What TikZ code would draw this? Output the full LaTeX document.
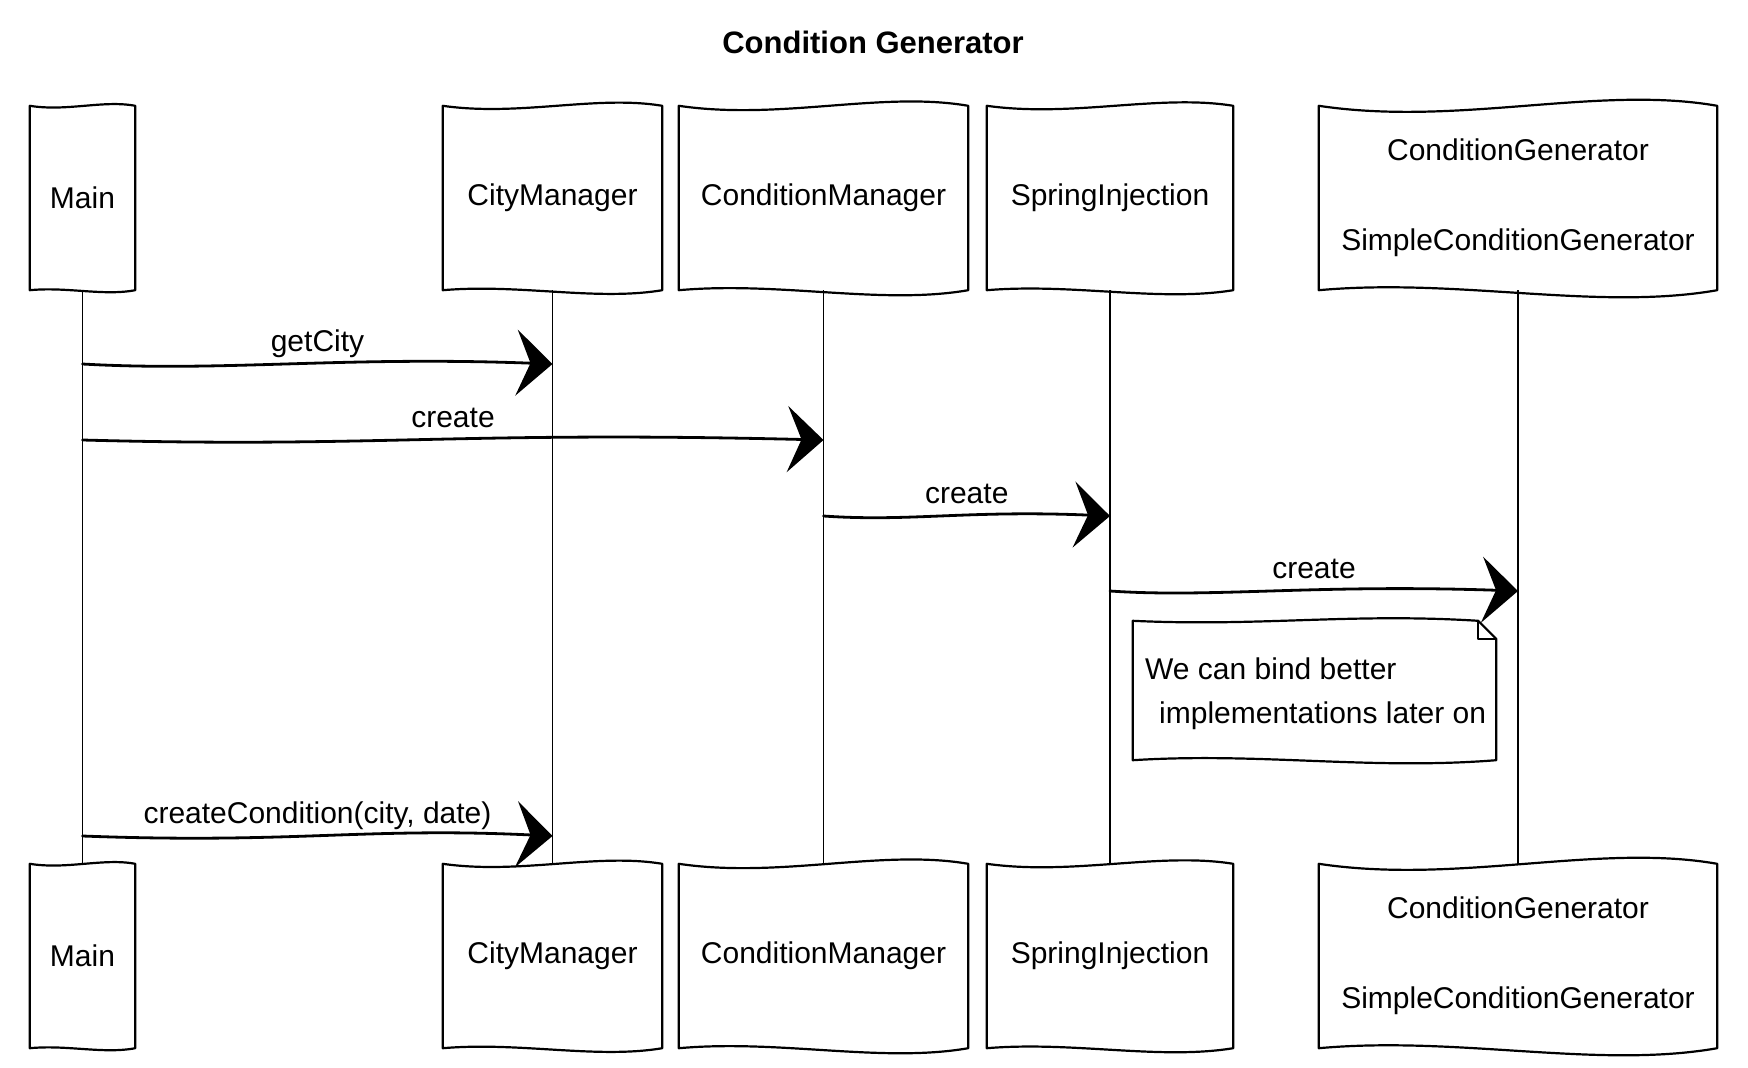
\documentclass[tikz,border=0pt]{standalone}
\usepackage{fontspec}
\setmainfont{Liberation Sans}
\usetikzlibrary{arrows.meta,calc}
\begin{document}
\begin{tikzpicture}[x=1pt,y=-1pt,
  actor/.style={draw=none, minimum height=184pt, inner sep=0pt, align=center,
                font=\fontsize{30}{45}\selectfont},
  boxline/.style={line width=2.2pt, line join=round},
  lifeline/.style={line width=1.3pt},
  msg/.style={line width=2.8pt, line cap=round,
              -{Stealth[length=36pt,width=66pt,inset=14pt]}},
  msglabel/.style={font=\fontsize{30}{36}\selectfont, anchor=base, inner sep=0pt, yshift=13pt},
]
\useasboundingbox (0,0) rectangle (1748,1068);
\fill[white] (0,0) rectangle (1748,1068);

\node[font=\bfseries\fontsize{31}{36}\selectfont] (title) at (873,42) {Condition Generator};

% top participants
\node[actor, minimum width=105pt] (mainT)   at (82.5,198)  {Main};
\node[actor, minimum width=219pt] (cityT)   at (552.5,198) {CityManager};
\node[actor, minimum width=289pt] (condT)   at (823.5,198) {ConditionManager};
\node[actor, minimum width=246pt] (springT) at (1110,198)  {SpringInjection};
\node[actor, minimum width=398pt] (genT)    at (1518,198)  {ConditionGenerator\\[45pt]SimpleConditionGenerator};
% bottom participants
\node[actor, minimum width=105pt] (mainB)   at (82.5,956)  {Main};
\node[actor, minimum width=219pt] (cityB)   at (552.5,956) {CityManager};
\node[actor, minimum width=289pt] (condB)   at (823.5,956) {ConditionManager};
\node[actor, minimum width=246pt] (springB) at (1110,956)  {SpringInjection};
\node[actor, minimum width=398pt] (genB)    at (1518,956)  {ConditionGenerator\\[45pt]SimpleConditionGenerator};

% sketchy outlines (wave amplitude grows with box width)
\foreach \n/\a in {mainT/6,cityT/11,condT/15,springT/12,genT/21,mainB/6,cityB/11,condB/15,springB/12,genB/21}{
  \draw[boxline] (\n.south west) -- (\n.north west)
    .. controls ($(\n.north west)!0.35!(\n.north east)+(0,\a)$) and ($(\n.north west)!0.7!(\n.north east)+(0,-\a)$) .. (\n.north east)
    -- (\n.south east)
    .. controls ($(\n.south east)!0.3!(\n.south west)+(0,\a)$) and ($(\n.south east)!0.65!(\n.south west)+(0,-0.6*\a)$) .. (\n.south west)
    -- cycle;
}

% lifelines
\draw[lifeline] (mainT.south)   -- (mainB.north);
\draw[lifeline] (cityT.south)   -- (cityB.north);
\draw[lifeline] (condT.south)   -- (condB.north);
\draw[lifeline] (springT.south) -- (springB.north);
\draw[lifeline] (genT.south)    -- (genB.north);

% message levels
\coordinate (y1) at (0,364);
\coordinate (y2) at (0,440);
\coordinate (y3) at (0,516);
\coordinate (y4) at (0,591);
\coordinate (y5) at (0,836);

\coordinate (m1s) at (mainT.south |- y1);   \coordinate (m1e) at (cityT.south |- y1);
\coordinate (m2s) at (mainT.south |- y2);   \coordinate (m2e) at (condT.south |- y2);
\coordinate (m3s) at (condT.south |- y3);   \coordinate (m3e) at (springT.south |- y3);
\coordinate (m4s) at (springT.south |- y4); \coordinate (m4e) at (genT.south |- y4);
\coordinate (m5s) at (mainT.south |- y5);   \coordinate (m5e) at (cityT.south |- y5);

\draw[msg] (m1s) .. controls ($(m1s)!0.3!(m1e)+(0,8)$) and ($(m1s)!0.55!(m1e)+(0,-8)$) .. (m1e);
\draw[msg] (m2s) .. controls ($(m2s)!0.4!(m2e)+(0,8)$) and ($(m2s)!0.5!(m2e)+(0,-9)$) .. (m2e);
\draw[msg] (m3s) .. controls ($(m3s)!0.3!(m3e)+(0,6)$) and ($(m3s)!0.5!(m3e)+(0,-6)$) .. (m3e);
\draw[msg] (m4s) .. controls ($(m4s)!0.25!(m4e)+(0,7)$) and ($(m4s)!0.5!(m4e)+(0,-7)$) .. (m4e);
\draw[msg] (m5s) .. controls ($(m5s)!0.45!(m5e)+(0,8)$) and ($(m5s)!0.6!(m5e)+(0,-9)$) .. (m5e);

\node[msglabel] (l1) at ($(m1s)!0.5!(m1e)$) {getCity};
\node[msglabel] (l2) at ($(m2s)!0.5!(m2e)$) {create};
\node[msglabel] (l3) at ($(m3s)!0.5!(m3e)$) {create};
\node[msglabel] (l4) at ($(m4s)!0.5!(m4e)$) {create};
\node[msglabel] (l5) at ($(m5s)!0.5!(m5e)$) {createCondition(city, date)};

% note
\node[draw=none, minimum width=363pt, minimum height=139pt, inner sep=0pt] (note) at (1314.5,690.5) {};
\draw[boxline] (note.south west) -- (note.north west)
  .. controls ($(note.north west)!0.35!(note.north east)+(0,6)$) and ($(note.north west)!0.6!(note.north east)+(0,-8)$) .. ($(note.north east)+(-18,0)$)
  -- ($(note.north east)+(0,18)$) -- (note.south east)
  .. controls ($(note.south east)!0.35!(note.south west)+(0,10)$) and ($(note.south east)!0.65!(note.south west)+(0,-8)$) .. (note.south west)
  -- cycle;
\draw[line width=1.5pt, line join=round] ($(note.north east)+(-18,0)$) -- ($(note.north east)+(-18,18)$) -- ($(note.north east)+(0,18)$);
\node[anchor=north west, inner sep=0pt, align=left, font=\fontsize{30}{44}\selectfont] (notetext) at (1145,658)
  {We can bind better\\\hspace*{14pt}implementations later on};
\end{tikzpicture}
\end{document}
